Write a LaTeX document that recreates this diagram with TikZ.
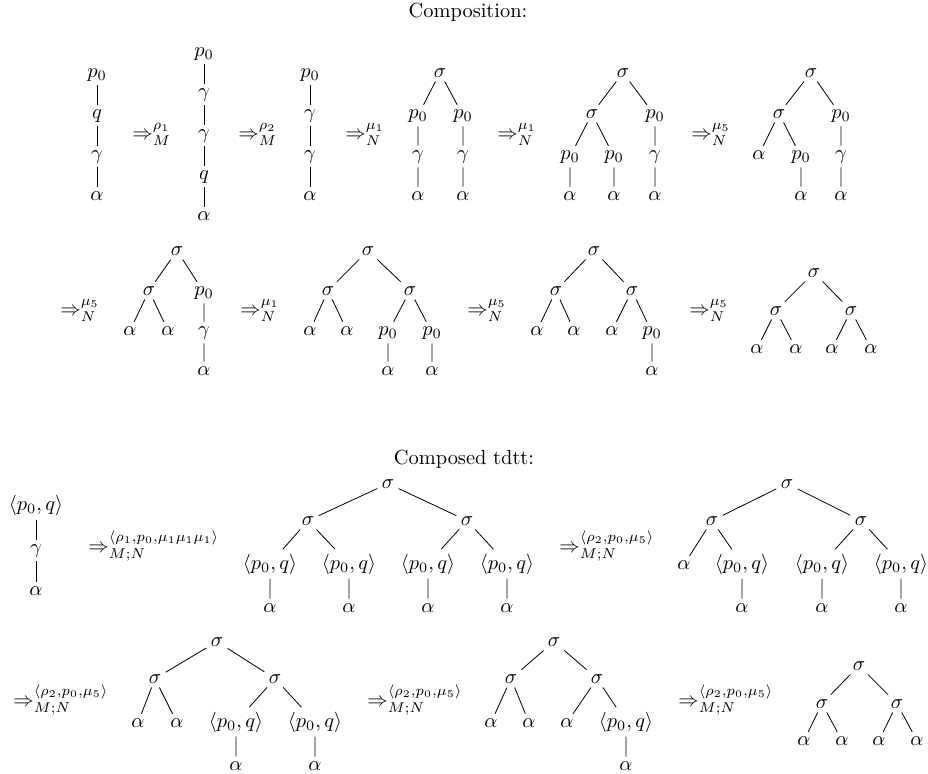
\documentclass[tikz,border=0pt]{standalone}
\begin{document}
\begin{tikzpicture}[x=0.49pt,y=-0.49pt,
  tn/.style={inner sep=2pt,anchor=base},
  rel/.style={inner sep=0pt,anchor=base west},
  ttl/.style={inner sep=0pt,anchor=base}]
\useasboundingbox (0,0) rectangle (928,774);
\newcommand{\pq}{$\langle p_0,q\rangle$}
% titles
\node[ttl] (title1) at (468,17) {Composition:};
\node[ttl] (title2) at (464,464) {Composed tdtt:};
% ---------------- Row 1 ----------------
% tree 1
\node[tn] (a1) at (97,77) {$p_0$};
\node[tn] (a2) at (97,118) {$q$};
\node[tn] (a3) at (97,159) {$\gamma$};
\node[tn] (a4) at (97,200) {$\alpha$};
\draw (a1)--(a2) (a2)--(a3) (a3)--(a4);
\node[rel] (ar1) at (132,139) {$\Rightarrow^{\rho_1}_{M}$};
% tree 2
\node[tn] (b1) at (204,56) {$p_0$};
\node[tn] (b2) at (204,97) {$\gamma$};
\node[tn] (b3) at (204,138) {$\gamma$};
\node[tn] (b4) at (204,179) {$q$};
\node[tn] (b5) at (204,220) {$\alpha$};
\draw (b1)--(b2) (b2)--(b3) (b3)--(b4) (b4)--(b5);
\node[rel] (ar2) at (238,139) {$\Rightarrow^{\rho_2}_{M}$};
% tree 3
\node[tn] (c1) at (310,77) {$p_0$};
\node[tn] (c2) at (310,118) {$\gamma$};
\node[tn] (c3) at (310,159) {$\gamma$};
\node[tn] (c4) at (310,200) {$\alpha$};
\draw (c1)--(c2) (c2)--(c3) (c3)--(c4);
\node[rel] (ar3) at (345,139) {$\Rightarrow^{\mu_1}_{N}$};
% tree 4
\node[tn] (d0) at (440,77) {$\sigma$};
\node[tn] (d1) at (418,118) {$p_0$};
\node[tn] (d2) at (463,118) {$p_0$};
\node[tn] (d3) at (418,159) {$\gamma$};
\node[tn] (d4) at (463,159) {$\gamma$};
\node[tn] (d5) at (418,200) {$\alpha$};
\node[tn] (d6) at (463,200) {$\alpha$};
\draw (d0)--(d1) (d0)--(d2) (d1)--(d3) (d2)--(d4) (d3)--(d5) (d4)--(d6);
\node[rel] (ar4) at (497,139) {$\Rightarrow^{\mu_1}_{N}$};
% tree 5
\node[tn] (e0) at (623,77) {$\sigma$};
\node[tn] (e1) at (592,118) {$\sigma$};
\node[tn] (e2) at (655,118) {$p_0$};
\node[tn] (e3) at (570,159) {$p_0$};
\node[tn] (e4) at (614,159) {$p_0$};
\node[tn] (e5) at (655,159) {$\gamma$};
\node[tn] (e6) at (570,200) {$\alpha$};
\node[tn] (e7) at (614,200) {$\alpha$};
\node[tn] (e8) at (655,200) {$\alpha$};
\draw (e0)--(e1) (e0)--(e2) (e1)--(e3) (e1)--(e4) (e2)--(e5) (e3)--(e6) (e4)--(e7) (e5)--(e8);
\node[rel] (ar5) at (691,139) {$\Rightarrow^{\mu_5}_{N}$};
% tree 6
\node[tn] (f0) at (811,77) {$\sigma$};
\node[tn] (f1) at (779,118) {$\sigma$};
\node[tn] (f2) at (841,118) {$p_0$};
\node[tn] (f3) at (759,159) {$\alpha$};
\node[tn] (f4) at (801,159) {$p_0$};
\node[tn] (f5) at (841,159) {$\gamma$};
\node[tn] (f6) at (801,200) {$\alpha$};
\node[tn] (f7) at (841,200) {$\alpha$};
\draw (f0)--(f1) (f0)--(f2) (f1)--(f3) (f1)--(f4) (f2)--(f5) (f4)--(f6) (f5)--(f7);
% ---------------- Row 2 ----------------
\node[rel] (ar6) at (60,315) {$\Rightarrow^{\mu_5}_{N}$};
% tree 7
\node[tn] (g0) at (177,255) {$\sigma$};
\node[tn] (g1) at (149,295) {$\sigma$};
\node[tn] (g2) at (204,295) {$p_0$};
\node[tn] (g3) at (130,335) {$\alpha$};
\node[tn] (g4) at (168,335) {$\alpha$};
\node[tn] (g5) at (204,335) {$\gamma$};
\node[tn] (g6) at (204,375) {$\alpha$};
\draw (g0)--(g1) (g0)--(g2) (g1)--(g3) (g1)--(g4) (g2)--(g5) (g5)--(g6);
\node[rel] (ar7) at (240,315) {$\Rightarrow^{\mu_1}_{N}$};
% tree 8
\node[tn] (h0) at (368,255) {$\sigma$};
\node[tn] (h1) at (328,295) {$\sigma$};
\node[tn] (h2) at (410,295) {$\sigma$};
\node[tn] (h3) at (310,335) {$\alpha$};
\node[tn] (h4) at (347,335) {$\alpha$};
\node[tn] (h5) at (388,335) {$p_0$};
\node[tn] (h6) at (432,335) {$p_0$};
\node[tn] (h7) at (388,375) {$\alpha$};
\node[tn] (h8) at (432,375) {$\alpha$};
\draw (h0)--(h1) (h0)--(h2) (h1)--(h3) (h1)--(h4) (h2)--(h5) (h2)--(h6) (h5)--(h7) (h6)--(h8);
\node[rel] (ar8) at (467,315) {$\Rightarrow^{\mu_5}_{N}$};
% tree 9
\node[tn] (i0) at (594,255) {$\sigma$};
\node[tn] (i1) at (556,295) {$\sigma$};
\node[tn] (i2) at (632,295) {$\sigma$};
\node[tn] (i3) at (537,335) {$\alpha$};
\node[tn] (i4) at (574,335) {$\alpha$};
\node[tn] (i5) at (612,335) {$\alpha$};
\node[tn] (i6) at (652,335) {$p_0$};
\node[tn] (i7) at (652,375) {$\alpha$};
\draw (i0)--(i1) (i0)--(i2) (i1)--(i3) (i1)--(i4) (i2)--(i5) (i2)--(i6) (i6)--(i7);
\node[rel] (ar9) at (689,315) {$\Rightarrow^{\mu_5}_{N}$};
% tree 10
\node[tn] (j0) at (814,277) {$\sigma$};
\node[tn] (j1) at (776,315) {$\sigma$};
\node[tn] (j2) at (851,315) {$\sigma$};
\node[tn] (j3) at (757,353) {$\alpha$};
\node[tn] (j4) at (796,353) {$\alpha$};
\node[tn] (j5) at (832,353) {$\alpha$};
\node[tn] (j6) at (871,353) {$\alpha$};
\draw (j0)--(j1) (j0)--(j2) (j1)--(j3) (j1)--(j4) (j2)--(j5) (j2)--(j6);
% ---------------- Row 3 ----------------
\node[tn] (k1) at (36,510) {\pq};
\node[tn] (k2) at (36,553) {$\gamma$};
\node[tn] (k3) at (36,595) {$\alpha$};
\draw (k1)--(k2) (k2)--(k3);
\node[rel] (ar10) at (88,552) {$\Rightarrow^{\langle\rho_1,p_0,\mu_1\mu_1\mu_1\rangle}_{M;N}$};
% tree B
\node[tn] (l0) at (388,488) {$\sigma$};
\node[tn] (l1) at (308,525) {$\sigma$};
\node[tn] (l2) at (467,525) {$\sigma$};
\node[tn] (l3) at (270,569) {\pq};
\node[tn] (l4) at (349,569) {\pq};
\node[tn] (l5) at (428,569) {\pq};
\node[tn] (l6) at (507,569) {\pq};
\node[tn] (l7) at (270,612) {$\alpha$};
\node[tn] (l8) at (349,612) {$\alpha$};
\node[tn] (l9) at (428,612) {$\alpha$};
\node[tn] (l10) at (507,612) {$\alpha$};
\draw (l0)--(l1) (l0)--(l2) (l1)--(l3) (l1)--(l4) (l2)--(l5) (l2)--(l6)
      (l3)--(l7) (l4)--(l8) (l5)--(l9) (l6)--(l10);
\node[rel] (ar11) at (559,552) {$\Rightarrow^{\langle\rho_2,p_0,\mu_5\rangle}_{M;N}$};
% tree C
\node[tn] (m0) at (787,488) {$\sigma$};
\node[tn] (m1) at (712,525) {$\sigma$};
\node[tn] (m2) at (861,525) {$\sigma$};
\node[tn] (m3) at (684,569) {$\alpha$};
\node[tn] (m4) at (742,569) {\pq};
\node[tn] (m5) at (822,569) {\pq};
\node[tn] (m6) at (901,569) {\pq};
\node[tn] (m7) at (742,612) {$\alpha$};
\node[tn] (m8) at (822,612) {$\alpha$};
\node[tn] (m9) at (901,612) {$\alpha$};
\draw (m0)--(m1) (m0)--(m2) (m1)--(m3) (m1)--(m4) (m2)--(m5) (m2)--(m6)
      (m4)--(m7) (m5)--(m8) (m6)--(m9);
% ---------------- Row 4 ----------------
\node[rel] (ar12) at (13,706) {$\Rightarrow^{\langle\rho_2,p_0,\mu_5\rangle}_{M;N}$};
% tree D
\node[tn] (n0) at (217,646) {$\sigma$};
\node[tn] (n1) at (155,683) {$\sigma$};
\node[tn] (n2) at (275,683) {$\sigma$};
\node[tn] (n3) at (138,727) {$\alpha$};
\node[tn] (n4) at (177,727) {$\alpha$};
\node[tn] (n5) at (236,727) {\pq};
\node[tn] (n6) at (315,727) {\pq};
\node[tn] (n7) at (236,770) {$\alpha$};
\node[tn] (n8) at (315,770) {$\alpha$};
\draw (n0)--(n1) (n0)--(n2) (n1)--(n3) (n1)--(n4) (n2)--(n5) (n2)--(n6) (n5)--(n7) (n6)--(n8);
\node[rel] (ar13) at (367,706) {$\Rightarrow^{\langle\rho_2,p_0,\mu_5\rangle}_{M;N}$};
% tree E
\node[tn] (o0) at (554,646) {$\sigma$};
\node[tn] (o1) at (511,683) {$\sigma$};
\node[tn] (o2) at (597,683) {$\sigma$};
\node[tn] (o3) at (491,727) {$\alpha$};
\node[tn] (o4) at (529,727) {$\alpha$};
\node[tn] (o5) at (567,727) {$\alpha$};
\node[tn] (o6) at (626,727) {\pq};
\node[tn] (o7) at (626,770) {$\alpha$};
\draw (o0)--(o1) (o0)--(o2) (o1)--(o3) (o1)--(o4) (o2)--(o5) (o2)--(o6) (o6)--(o7);
\node[rel] (ar14) at (678,706) {$\Rightarrow^{\langle\rho_2,p_0,\mu_5\rangle}_{M;N}$};
% tree F
\node[tn] (p0) at (859,670) {$\sigma$};
\node[tn] (p1) at (822,708) {$\sigma$};
\node[tn] (p2) at (897,708) {$\sigma$};
\node[tn] (p3) at (804,745) {$\alpha$};
\node[tn] (p4) at (842,745) {$\alpha$};
\node[tn] (p5) at (879,745) {$\alpha$};
\node[tn] (p6) at (917,745) {$\alpha$};
\draw (p0)--(p1) (p0)--(p2) (p1)--(p3) (p1)--(p4) (p2)--(p5) (p2)--(p6);
\end{tikzpicture}
\end{document}
